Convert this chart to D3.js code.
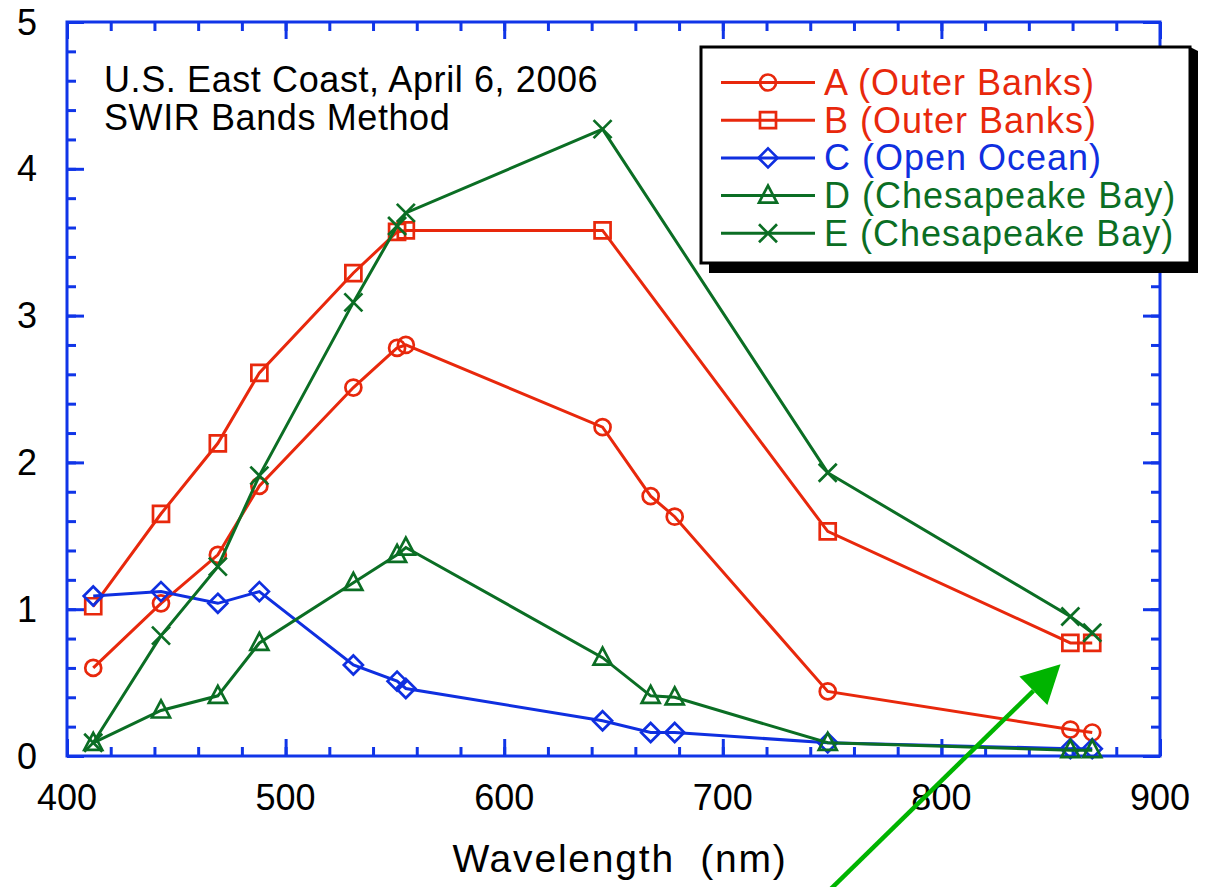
<!DOCTYPE html>
<html>
<head>
<meta charset="utf-8">
<script src="https://cdn.jsdelivr.net/npm/d3@7"></script>
<style>
  html, body { margin: 0; padding: 0; background: #fff; overflow: hidden; }
  svg { display: block; }
  text { font-family: "Liberation Sans", Arial, Helvetica, sans-serif; }
</style>
</head>
<body>
<svg width="1209" height="887"></svg>
<script>
const wavelengths = [412, 443, 469, 488, 531, 551, 555, 645, 667, 678, 748, 859, 869];

const seriesA = [0.60, 1.04, 1.37, 1.84, 2.51, 2.78, 2.80, 2.24, 1.77, 1.63, 0.44, 0.18, 0.16];
const seriesB = [1.02, 1.65, 2.13, 2.61, 3.29, 3.57, 3.58, 3.58, null, null, 1.53, 0.77, 0.77];
const seriesC = [1.09, 1.12, 1.04, 1.12, 0.62, 0.51, 0.46, 0.24, 0.16, 0.16, 0.09, 0.05, 0.05];
const seriesD = [0.09, 0.31, 0.41, 0.77, 1.18, 1.37, 1.42, 0.67, 0.41, 0.40, 0.09, 0.04, 0.04];
const seriesE = [0.09, 0.82, 1.29, 1.91, 3.09, 3.61, 3.70, 4.27, null, null, 1.93, 0.95, 0.84];

const seriesNames = ['A (Outer Banks)', 'B (Outer Banks)', 'C (Open Ocean)', 'D (Chesapeake Bay)', 'E (Chesapeake Bay)'];
const xTicks = [400, 500, 600, 700, 800, 900];
const yTicks = [0, 1, 2, 3, 4, 5];
const noteLines = ['U.S. East Coast, April 6, 2006', 'SWIR Bands Method'];
const xAxisLabel = 'Wavelength  (nm)';
// arrow annotation, [wavelength, value] from tail to tip
const arrowPoints = [[744.3, -0.98], [854.5, 0.625]];

const red = '#e8280c';
const blue = '#0f2fe0';
const green = '#0b6e24';
const axisBlue = '#1035e8';

const svg = d3.select('svg');
const width = +svg.attr('width');
const height = +svg.attr('height');
const margin = { top: 22, right: 49, bottom: 131, left: 67 };
const innerWidth = width - margin.left - margin.right;
const innerHeight = height - margin.top - margin.bottom;

const xScale = d3.scaleLinear().domain([400, 900]).range([0, innerWidth]);
const yScale = d3.scaleLinear().domain([0, 5]).range([innerHeight, 0]);

const g = svg.append('g')
  .attr('transform', `translate(${margin.left}, ${margin.top})`);

// marker shapes
const markerPath = {
  circle: () => 'M8,0A8,8 0 1,1 -8,0A8,8 0 1,1 8,0Z',
  square: () => 'M-8,-8H8V8H-8Z',
  diamond: () => 'M0,-9.5L9.5,0L0,9.5L-9.5,0Z',
  triangle: () => 'M0,-10L9,7H-9Z',
  cross: () => 'M-9,-9L9,9M9,-9L-9,9'
};

const series = [
  { name: seriesNames[0], values: seriesA, color: red, shape: 'circle' },
  { name: seriesNames[1], values: seriesB, color: red, shape: 'square' },
  { name: seriesNames[2], values: seriesC, color: blue, shape: 'diamond' },
  { name: seriesNames[3], values: seriesD, color: green, shape: 'triangle' },
  { name: seriesNames[4], values: seriesE, color: green, shape: 'cross' }
];

// axes: minor and major ticks on all four sides, pointing inward
const tickStyle = sel => {
  sel.select('.domain').remove();
  sel.selectAll('text').remove();
  sel.selectAll('line').attr('stroke', axisBlue).attr('stroke-width', 3);
};

const minorX = d3.range(400, 901, 20);
const minorY = d3.range(0, 5.01, 0.2);

[[minorX, -9], [xTicks, -17]].forEach(([vals, size]) => {
  g.append('g').attr('transform', `translate(0, ${innerHeight})`)
    .call(d3.axisBottom(xScale).tickValues(vals).tickSize(size))
    .call(tickStyle);
  g.append('g')
    .call(d3.axisTop(xScale).tickValues(vals).tickSize(size))
    .call(tickStyle);
});
[[minorY, -9], [yTicks, -17]].forEach(([vals, size]) => {
  g.append('g')
    .call(d3.axisLeft(yScale).tickValues(vals).tickSize(size))
    .call(tickStyle);
  g.append('g').attr('transform', `translate(${innerWidth}, 0)`)
    .call(d3.axisRight(yScale).tickValues(vals).tickSize(size))
    .call(tickStyle);
});

g.append('rect')
  .attr('width', innerWidth)
  .attr('height', innerHeight)
  .attr('fill', 'none')
  .attr('stroke', axisBlue)
  .attr('stroke-width', 3);

// tick labels
g.selectAll('.x-label')
  .data(xTicks)
  .join('text')
  .attr('class', 'x-label')
  .attr('x', d => xScale(d))
  .attr('y', innerHeight + 54)
  .attr('text-anchor', 'middle')
  .style('font-size', '36px')
  .attr('fill', 'black')
  .text(d => d);

g.selectAll('.y-label')
  .data(yTicks)
  .join('text')
  .attr('class', 'y-label')
  .attr('x', -30)
  .attr('y', d => yScale(d) + 12.5)
  .attr('text-anchor', 'end')
  .style('font-size', '36px')
  .attr('fill', 'black')
  .text(d => d);

// lines and markers
const line = d3.line()
  .x(d => xScale(d.w))
  .y(d => yScale(d.v));

series.forEach(s => {
  const pts = wavelengths.map((w, i) => ({ w, v: s.values[i] })).filter(d => d.v !== null);
  g.append('path')
    .datum(pts)
    .attr('d', line)
    .attr('fill', 'none')
    .attr('stroke', s.color)
    .attr('stroke-width', 3);
  g.selectAll(null)
    .data(pts)
    .join('path')
    .attr('transform', d => `translate(${xScale(d.w)}, ${yScale(d.v)})`)
    .attr('d', markerPath[s.shape])
    .attr('fill', 'none')
    .attr('stroke', s.color)
    .attr('stroke-width', 2.7);
});

// note in the upper left
g.selectAll('.note')
  .data(noteLines)
  .join('text')
  .attr('class', 'note')
  .attr('x', 37)
  .attr('y', (d, i) => 70 + i * 38)
  .style('font-size', '36px')
  .style('letter-spacing', '0.6px')
  .attr('fill', 'black')
  .text(d => d);

// legend box with shadow
const legend = svg.append('g').attr('transform', 'translate(701, 47)');
legend.append('path')
  .attr('d', 'M497,4L497,226L8,226L8,216L489,216L489,0Z')
  .attr('fill', 'black');
legend.append('rect')
  .attr('width', 489).attr('height', 216)
  .attr('fill', 'white')
  .attr('stroke', 'black')
  .attr('stroke-width', 3);

const rows = legend.selectAll('.row')
  .data(series)
  .join('g')
  .attr('class', 'row')
  .attr('transform', (d, i) => `translate(0, ${35.5 + i * 37.7})`);
rows.append('line')
  .attr('x1', 20).attr('x2', 114)
  .attr('stroke', d => d.color)
  .attr('stroke-width', 3);
rows.append('path')
  .attr('transform', 'translate(67, 0)')
  .attr('d', d => markerPath[d.shape]())
  .attr('fill', 'none')
  .attr('stroke', d => d.color)
  .attr('stroke-width', 2.7);
rows.append('text')
  .attr('x', 123)
  .attr('y', 12.5)
  .style('font-size', '36px')
  .style('letter-spacing', '1px')
  .attr('fill', d => d.color)
  .text(d => d.name);

// x axis title
svg.append('text')
  .attr('x', 620)
  .attr('y', 872)
  .attr('text-anchor', 'middle')
  .style('font-size', '39px')
  .style('letter-spacing', '1.8px')
  .style('white-space', 'pre')
  .attr('fill', 'black')
  .text(xAxisLabel);

// green arrow
const [tail, tip] = arrowPoints.map(p => [margin.left + xScale(p[0]), margin.top + yScale(p[1])]);
const dx = tip[0] - tail[0];
const dy = tip[1] - tail[1];
const len = Math.hypot(dx, dy);
const ux = dx / len, uy = dy / len;
const headLen = 38, headHalf = 20;
const base = [tip[0] - ux * headLen, tip[1] - uy * headLen];
svg.append('line')
  .attr('x1', tail[0]).attr('y1', tail[1])
  .attr('x2', base[0]).attr('y2', base[1])
  .attr('stroke', '#00b400')
  .attr('stroke-width', 4.5);
svg.append('path')
  .attr('d', `M${tip[0]},${tip[1]}L${base[0] - uy * headHalf},${base[1] + ux * headHalf}L${base[0] + uy * headHalf},${base[1] - ux * headHalf}Z`)
  .attr('fill', '#00b400');
</script>
</body>
</html>
